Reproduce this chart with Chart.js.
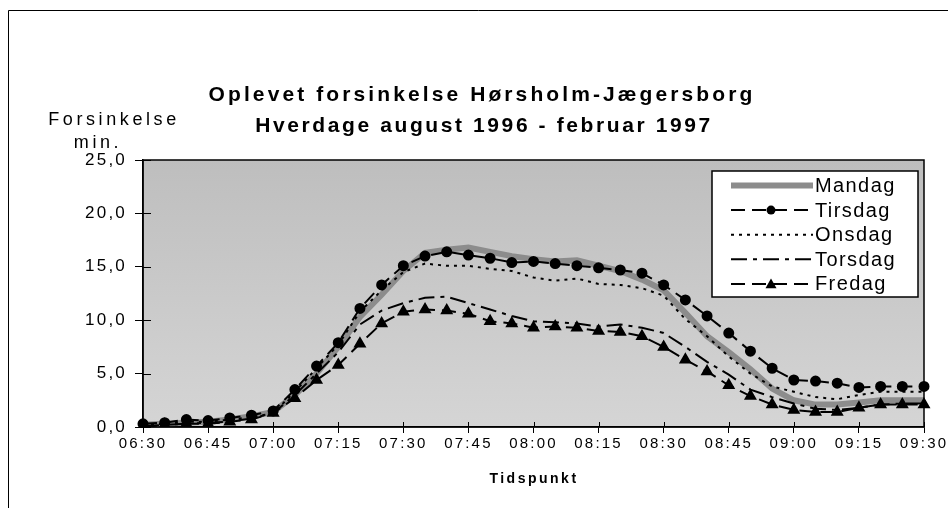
<!DOCTYPE html>
<html>
<head>
<meta charset="utf-8">
<script src="https://cdn.jsdelivr.net/npm/chart.js@4"></script>
<style>
  html, body { margin: 0; padding: 0; background: #fff; }
  #wrap { width: 948px; height: 508px; position: relative; }
</style>
</head>
<body>
<div id="wrap"><canvas id="chart" width="948" height="508"></canvas></div>
<script>
// Tidspunkter (hvert 5. minut)
const tider = ['06:30','06:35','06:40','06:45','06:50','06:55','07:00','07:05','07:10','07:15','07:20','07:25',
  '07:30','07:35','07:40','07:45','07:50','07:55','08:00','08:05','08:10','08:15','08:20','08:25',
  '08:30','08:35','08:40','08:45','08:50','08:55','09:00','09:05','09:10','09:15','09:20','09:25','09:30'];
const xTickLabels = ['06:30','06:45','07:00','07:15','07:30','07:45','08:00','08:15','08:30','08:45','09:00','09:15','09:30'];
const yTicks = [0, 5, 10, 15, 20, 25];

// Forsinkelse i minutter
const mandag  = [0.2,0.3,0.4,0.5,0.7,1.0,1.4,3.0,5.0,7.5,10.3,12.4,14.6,16.3,16.6,16.8,16.4,16.0,15.7,15.5,15.6,15.1,14.6,13.8,12.8,10.7,8.5,7.0,5.4,3.6,2.5,2.1,2.1,2.3,2.5,2.5,2.5];
const tirsdag = [0.3,0.4,0.7,0.6,0.85,1.1,1.5,3.5,5.7,7.9,11.1,13.3,15.1,16.0,16.4,16.1,15.8,15.4,15.5,15.3,15.1,14.9,14.7,14.4,13.3,11.9,10.4,8.8,7.1,5.5,4.4,4.3,4.1,3.7,3.8,3.8,3.8];
const onsdag  = [0.2,0.3,0.5,0.5,0.7,0.9,1.3,3.3,5.5,7.7,10.8,12.8,14.5,15.3,15.1,15.1,14.8,14.6,14.0,13.7,13.9,13.4,13.3,13.0,12.3,10.1,8.5,6.6,5.0,3.8,3.3,2.8,2.6,3.0,3.3,3.3,3.3];
const torsdag = [0.1,0.2,0.3,0.4,0.5,0.8,1.3,3.0,5.0,7.0,9.6,10.9,11.6,12.1,12.2,11.6,11.0,10.4,9.9,9.8,9.7,9.4,9.6,9.3,8.8,7.5,6.1,4.9,3.5,2.8,2.2,1.7,1.6,1.8,2.1,2.2,2.2];
const fredag  = [0.0,0.2,0.3,0.3,0.5,0.7,1.3,2.7,4.4,5.8,7.8,9.7,10.8,11.0,10.9,10.6,9.9,9.7,9.3,9.4,9.3,9.0,8.9,8.5,7.5,6.3,5.2,3.9,2.9,2.1,1.6,1.4,1.4,1.8,2.1,2.1,2.1];

const FONT = 'Arial, "Liberation Sans", sans-serif';

function tekst(ctx, str, x, y, font, align, spacing) {
    ctx.save();
    ctx.font = font;
    ctx.letterSpacing = spacing + 'px';
    ctx.fillStyle = '#000';
    ctx.textAlign = align;
    ctx.textBaseline = 'middle';
    ctx.fillText(str, x, y);
    ctx.restore();
}

// baggrund, titler, ramme og forklaring
const pynt = {
    id: 'pynt',
    beforeDraw(chart) {
        const { ctx, chartArea: a } = chart;
        ctx.save();
        ctx.fillStyle = '#fff';
        ctx.fillRect(0, 0, chart.width, chart.height);
        const g = ctx.createLinearGradient(0, a.top, 0, a.bottom);
        g.addColorStop(0, '#bebebe');
        g.addColorStop(1, '#d5d5d5');
        ctx.fillStyle = g;
        ctx.fillRect(a.left, a.top, a.right - a.left, a.bottom - a.top);
        // ydre ramme
        ctx.strokeStyle = '#000';
        ctx.lineWidth = 1;
        ctx.beginPath();
        ctx.moveTo(8.5, chart.height);
        ctx.lineTo(8.5, 10.5);
        ctx.lineTo(chart.width, 10.5);
        ctx.stroke();
        ctx.restore();
        ctx.letterSpacing = '2.2px';
    },
    afterDraw(chart) {
        const { ctx, chartArea: a, scales } = chart;
        ctx.letterSpacing = '0px';
        // plotramme
        ctx.save();
        ctx.strokeStyle = '#000';
        ctx.lineWidth = 1.5;
        ctx.strokeRect(a.left, a.top, a.right - a.left, a.bottom - a.top);
        // krydsende streger
        ctx.lineWidth = 1;
        ctx.beginPath();
        yTicks.forEach(v => {
            const y = Math.round(scales.y.getPixelForValue(v)) + 0.5;
            ctx.moveTo(a.left, y); ctx.lineTo(a.left + 8, y);
        });
        tider.forEach((t, i) => {
            if (i % 3) return;
            const x = Math.round(scales.x.getPixelForValue(i)) + 0.5;
            ctx.moveTo(x, a.bottom); ctx.lineTo(x, a.bottom - 5);
        });
        ctx.stroke();
        ctx.restore();

        tekst(ctx, 'Oplevet forsinkelse Hørsholm-Jægersborg', 482, 95, 'bold 21px ' + FONT, 'center', 3.1);
        tekst(ctx, 'Hverdage august 1996 - februar 1997', 484, 126, 'bold 21px ' + FONT, 'center', 2.6);
        tekst(ctx, 'Forsinkelse', 114, 120, '18px ' + FONT, 'center', 3.6);
        tekst(ctx, 'min.', 98, 143, '18px ' + FONT, 'center', 3.6);
        tekst(ctx, 'Tidspunkt', 534, 479, 'bold 14px ' + FONT, 'center', 2.5);

        // forklaring
        const lx = 712, ly = 171, lw = 206, lh = 126;
        ctx.save();
        ctx.fillStyle = '#fff';
        ctx.fillRect(lx, ly, lw, lh);
        ctx.strokeStyle = '#000';
        ctx.lineWidth = 1.5;
        ctx.strokeRect(lx, ly, lw, lh);
        chart.data.datasets.forEach((ds, i) => {
            const y = ly + 14.5 + i * 24.6;
            ctx.save();
            ctx.strokeStyle = ds.borderColor;
            ctx.lineWidth = ds.borderWidth;
            ctx.setLineDash(ds.borderDash || []);
            ctx.beginPath();
            ctx.moveTo(731, y); ctx.lineTo(813, y);
            ctx.stroke();
            ctx.restore();
            if (ds.pointRadius > 0) {
                ctx.fillStyle = '#000';
                ctx.beginPath();
                if (ds.pointStyle === 'triangle') {
                    const r = ds.pointRadius;
                    ctx.moveTo(771, y - r);
                    ctx.lineTo(771 + r, y + r * 0.8);
                    ctx.lineTo(771 - r, y + r * 0.8);
                    ctx.closePath();
                } else {
                    ctx.arc(771, y, ds.pointRadius, 0, Math.PI * 2);
                }
                ctx.fill();
            }
            tekst(ctx, ds.label, 815, y + 1, '20px ' + FONT, 'left', 1.4);
        });
        ctx.restore();
    }
};

const ctx = document.getElementById('chart').getContext('2d');

new Chart(ctx, {
    type: 'line',
    data: {
        labels: tider,
        datasets: [
            { label: 'Mandag', data: mandag, borderColor: '#8c8c8c', borderWidth: 6, pointRadius: 0, order: 5 },
            { label: 'Tirsdag', data: tirsdag, borderColor: '#000', borderWidth: 2, borderDash: [14, 7],
              pointRadius: 4.5, pointStyle: 'circle', pointBackgroundColor: '#000', pointBorderColor: '#000', order: 4 },
            { label: 'Onsdag', data: onsdag, borderColor: '#000', borderWidth: 2, borderDash: [3, 5], pointRadius: 0, order: 3 },
            { label: 'Torsdag', data: torsdag, borderColor: '#000', borderWidth: 2, borderDash: [16, 6, 4, 6], pointRadius: 0, order: 2 },
            { label: 'Fredag', data: fredag, borderColor: '#000', borderWidth: 2, borderDash: [14, 7],
              pointRadius: 5.5, pointStyle: 'triangle', pointBackgroundColor: '#000', pointBorderColor: '#000', order: 1 }
        ]
    },
    plugins: [pynt],
    options: {
        responsive: false,
        animation: false,
        events: [],
        layout: { padding: { top: 160, right: 24, left: 0, bottom: 0 } },
        elements: { line: { tension: 0, borderCapStyle: 'butt' } },
        plugins: {
            legend: { display: false },
            title: { display: false },
            tooltip: { enabled: false }
        },
        scales: {
            x: {
                offset: false,
                afterFit: s => { s.height = 81; },
                grid: {
                    drawOnChartArea: false,
                    tickLength: 6,
                    tickColor: c => (c.index % 3 === 0 ? '#000' : 'rgba(0,0,0,0)')
                },
                border: { color: '#000', width: 1.5 },
                ticks: {
                    autoSkip: false,
                    maxRotation: 0,
                    padding: 2,
                    color: '#000',
                    font: { family: FONT, size: 15 },
                    callback: (v, i) => (i % 3 === 0 ? xTickLabels[i / 3] : '')
                }
            },
            y: {
                min: 0,
                max: 25,
                afterFit: s => { s.width = 143; },
                grid: { drawOnChartArea: false, tickLength: 8, tickColor: '#000' },
                border: { color: '#000', width: 1.5 },
                ticks: {
                    stepSize: 5,
                    padding: 8,
                    color: '#000',
                    font: { family: FONT, size: 17 },
                    callback: v => v.toFixed(1).replace('.', ',')
                }
            }
        }
    }
});
</script>
</body>
</html>
